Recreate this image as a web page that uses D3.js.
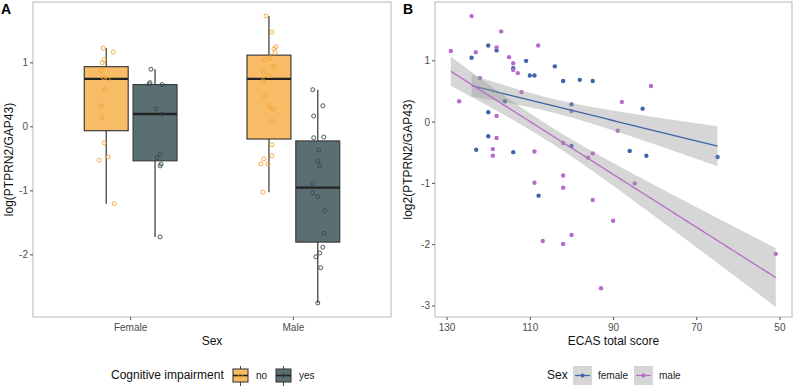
<!DOCTYPE html>
<html>
<head>
<meta charset="utf-8">
<script src="https://cdn.jsdelivr.net/npm/d3@7"></script>
<style>
  body { margin: 0; background: #fff; }
  svg { display: block; font-family: "Liberation Sans", Arial, sans-serif; }
</style>
</head>
<body>
<svg id="chart" width="794" height="386"></svg>
<script>
// ---- panel A data ----
const sexCats = ["Female", "Male"];
const impairLevels = ["no", "yes"];
// box stats: [lower whisker, q1, median, q3, upper whisker]
const boxFemaleNo = [-1.2, -0.06, 0.75, 0.94, 1.23];
const boxFemaleYes = [-1.72, -0.53, 0.2, 0.66, 0.9];
const boxMaleNo = [-1.02, -0.19, 0.75, 1.12, 1.73];
const boxMaleYes = [-2.75, -1.8, -0.95, -0.22, 0.58];

const ptsFemaleNo = [1.23, 1.17, 1.05, 1.0, 0.875, 0.77, 0.75, 0.58, 0.33, 0.14, -0.25, -0.47, -0.52, -1.2];
const jitFemaleNo = [-0.018, 0.043, -0.012, -0.025, -0.031, -0.018, 0.012, -0.006, -0.031, -0.025, -0.012, 0.012, -0.043, 0.049];
const ptsFemaleYes = [0.9, 0.69, 0.67, 0.66, 0.28, 0.2, -0.42, -0.48, -0.58, -0.61, -1.72];
const jitFemaleYes = [-0.025, -0.031, -0.037, 0.043, 0.006, 0.043, 0.031, 0.012, 0.037, 0.031, 0.031];
const ptsMaleNo = [1.73, 1.48, 1.25, 1.22, 1.16, 1.08, 1.05, 0.95, 0.86, 0.8, 0.72, 0.48, 0.33, 0.28, 0.09, -0.28, -0.45, -0.5, -0.58, -0.58, -1.02];
const jitMaleNo = [-0.018, 0.018, 0.043, 0.031, 0.037, 0.006, -0.025, 0.031, -0.031, 0, -0.037, -0.025, 0, 0.025, 0.018, 0.018, 0.018, -0.031, -0.049, -0.006, -0.037];
const ptsMaleYes = [0.58, 0.33, 0.17, -0.16, -0.17, -0.36, -0.53, -0.61, -0.89, -1.03, -1.09, -1.31, -1.66, -1.88, -1.97, -2.03, -2.2, -2.75];
const jitMaleYes = [-0.031, 0.031, -0.025, 0.037, -0.025, 0.006, 0, 0.012, -0.031, -0.031, 0, 0.043, 0.037, 0.031, 0.012, -0.012, 0.018, 0];

const yTicksA = [1, 0, -1, -2];

// ---- panel B data ----
const femaleScore = [120.1, 118.1, 124.1, 111.0, 114.1, 104.1, 110.1, 109.0, 102.1, 98.1, 95.0, 116.1, 100.1, 120.1, 120.1, 123.0, 114.1, 100.1, 83.0, 86.1, 82.1, 65.0, 108.0];
const femaleRatio = [1.25, 1.17, 1.05, 1.0, 0.88, 0.91, 0.76, 0.76, 0.67, 0.69, 0.67, 0.34, 0.29, 0.16, -0.23, -0.45, -0.49, -0.39, 0.22, -0.47, -0.55, -0.57, -1.2];
const maleScore = [124.1, 117.0, 129.1, 118.1, 123.1, 108.1, 115.1, 114.1, 114.1, 113.0, 122.1, 112.1, 127.1, 118.1, 118.1, 119.0, 119.0, 109.0, 100.1, 102.1, 95.0, 96.1, 81.0, 88.0, 89.0, 109.0, 102.1, 102.1, 95.0, 90.1, 100.1, 107.0, 102.1, 93.0, 84.9, 51.0];
const maleRatio = [1.73, 1.48, 1.16, 1.22, 1.14, 1.25, 1.06, 0.96, 0.85, 0.8, 0.72, 0.49, 0.34, 0.1, -0.26, -0.44, -0.55, -0.48, 0.18, -0.34, -0.51, -0.58, 0.59, 0.33, -0.14, -0.99, -0.87, -1.07, -1.27, -1.61, -1.84, -1.94, -1.99, -2.71, -1.0, -2.15];

const xTicksB = [130, 110, 90, 70, 50];
const yTicksB = [1, 0, -1, -2, -3];

// ---- colours ----
const boxFill = { no: "#f8bb66", yes: "#5b6f73" };
const ptColour = { no: "#f3a42e", yes: "#2c4950" };
const sexColour = { female: "#3d66a9", male: "#b76cc9" };
const borderCol = "#bdbdbd";
const tickCol = "#555";
const labelCol = "#4d4d4d";

const svg = d3.select("#chart");

// ================= panel A =================
const A = { left: 33, right: 391, top: 2, bottom: 317 };
const xA = d3.scaleLinear().domain([0.4, 2.6]).range([A.left, A.right]);
const yA = d3.scaleLinear().domain([-2.97, 1.95]).range([A.bottom, A.top]);

const groupsA = [
  { sex: 0, lvl: "no", box: boxFemaleNo, pts: ptsFemaleNo, jit: jitFemaleNo },
  { sex: 0, lvl: "yes", box: boxFemaleYes, pts: ptsFemaleYes, jit: jitFemaleYes },
  { sex: 1, lvl: "no", box: boxMaleNo, pts: ptsMaleNo, jit: jitMaleNo },
  { sex: 1, lvl: "yes", box: boxMaleYes, pts: ptsMaleYes, jit: jitMaleYes }
];
const dodge = 0.15, boxW = 0.27;
const centreA = g => (g.sex + 1) + (g.lvl === "no" ? -dodge : dodge);

const gA = svg.append("g");
gA.append("rect").attr("x", A.left).attr("y", A.top)
  .attr("width", A.right - A.left).attr("height", A.bottom - A.top)
  .attr("fill", "#fff").attr("stroke", borderCol).attr("stroke-width", 1.1);

groupsA.forEach(g => {
  const c = centreA(g);
  const [lo, q1, med, q3, hi] = g.box;
  const cx = xA(c);
  gA.append("line").attr("x1", cx).attr("x2", cx).attr("y1", yA(hi)).attr("y2", yA(q3))
    .attr("stroke", "#444").attr("stroke-width", 1.3);
  gA.append("line").attr("x1", cx).attr("x2", cx).attr("y1", yA(q1)).attr("y2", yA(lo))
    .attr("stroke", "#444").attr("stroke-width", 1.3);
  gA.append("rect")
    .attr("x", xA(c - boxW / 2)).attr("y", yA(q3))
    .attr("width", xA(c + boxW / 2) - xA(c - boxW / 2)).attr("height", yA(q1) - yA(q3))
    .attr("fill", boxFill[g.lvl]).attr("stroke", "#3d3d3d").attr("stroke-width", 1.2);
  gA.append("line").attr("x1", xA(c - boxW / 2)).attr("x2", xA(c + boxW / 2))
    .attr("y1", yA(med)).attr("y2", yA(med))
    .attr("stroke", "#222").attr("stroke-width", 2.4);
});

groupsA.forEach(g => {
  const c = centreA(g);
  gA.append("g").selectAll("circle")
    .data(g.pts.map((v, i) => ({ v, j: g.jit[i] })))
    .join("circle")
    .attr("cx", d => xA(c + d.j)).attr("cy", d => yA(d.v))
    .attr("r", 2).attr("fill", "none")
    .attr("stroke", ptColour[g.lvl]).attr("stroke-width", 0.9);
});

// axes A
const axA = svg.append("g");
yTicksA.forEach(t => {
  axA.append("line").attr("x1", A.left - 3).attr("x2", A.left).attr("y1", yA(t)).attr("y2", yA(t))
    .attr("stroke", tickCol);
  axA.append("text").attr("x", A.left - 5).attr("y", yA(t)).attr("dy", "0.35em")
    .attr("text-anchor", "end").attr("font-size", 10).attr("fill", labelCol).text(t);
});
sexCats.forEach((s, i) => {
  const x = xA(i + 1);
  axA.append("line").attr("x1", x).attr("x2", x).attr("y1", A.bottom).attr("y2", A.bottom + 3)
    .attr("stroke", tickCol);
  axA.append("text").attr("x", x).attr("y", A.bottom + 14).attr("text-anchor", "middle")
    .attr("font-size", 10).attr("fill", labelCol).text(s);
});
axA.append("text").attr("x", (A.left + A.right) / 2).attr("y", 345).attr("text-anchor", "middle")
  .attr("font-size", 12).attr("fill", "#111").text("Sex");
axA.append("text").attr("transform", `translate(13,${(A.top + A.bottom) / 2}) rotate(-90)`)
  .attr("text-anchor", "middle").attr("font-size", 12).attr("fill", "#111").text("log(PTPRN2/GAP43)");
svg.append("text").attr("x", 1).attr("y", 14).attr("font-size", 14).attr("font-weight", "bold")
  .attr("fill", "#000").text("A");

// legend A
const legA = svg.append("g");
legA.append("text").attr("x", 111).attr("y", 379).attr("font-size", 12).attr("fill", "#111")
  .text("Cognitive impairment");
const keyAx = { no: 233, yes: 276 };
impairLevels.forEach(l => {
  const kx = keyAx[l];
  legA.append("line").attr("x1", kx + 7.5).attr("x2", kx + 7.5).attr("y1", 366).attr("y2", 386)
    .attr("stroke", "#444").attr("stroke-width", 1);
  legA.append("rect").attr("x", kx).attr("y", 369).attr("width", 15).attr("height", 13)
    .attr("fill", boxFill[l]).attr("stroke", "#3d3d3d").attr("stroke-width", 1.1);
  legA.append("line").attr("x1", kx).attr("x2", kx + 15).attr("y1", 375.5).attr("y2", 375.5)
    .attr("stroke", "#222").attr("stroke-width", 1.6);
  legA.append("circle").attr("cx", kx + 7.5).attr("cy", 375.5).attr("r", 2)
    .attr("fill", "none").attr("stroke", ptColour[l]).attr("stroke-width", 0.9);
  legA.append("text").attr("x", kx + 23).attr("y", 379).attr("font-size", 10)
    .attr("fill", "#222").text(l);
});

// ================= panel B =================
const B = { left: 435, right: 792, top: 2, bottom: 317 };
const xB = d3.scaleLinear().domain([132.9, 47.1]).range([B.left, B.right]);
const yB = d3.scaleLinear().domain([-3.18, 1.96]).range([B.bottom, B.top]);

const gB = svg.append("g");
gB.append("rect").attr("x", B.left).attr("y", B.top)
  .attr("width", B.right - B.left).attr("height", B.bottom - B.top)
  .attr("fill", "#fff").attr("stroke", borderCol).attr("stroke-width", 1.1);

const seriesB = [
  { key: "female", xs: femaleScore, ys: femaleRatio },
  { key: "male", xs: maleScore, ys: maleRatio }
];

seriesB.forEach(s => {
  gB.append("g").selectAll("circle")
    .data(s.xs.map((x, i) => [x, s.ys[i]]))
    .join("circle")
    .attr("cx", d => xB(d[0])).attr("cy", d => yB(d[1]))
    .attr("r", 2.2).attr("fill", sexColour[s.key]);
});

// linear fit; band width is se times a factor matched to the reference ribbon
const bandK = 0.82;
function fit(xs, ys) {
  const n = xs.length;
  const mx = d3.mean(xs), my = d3.mean(ys);
  let sxx = 0, sxy = 0;
  xs.forEach((x, i) => { sxx += (x - mx) ** 2; sxy += (x - mx) * (ys[i] - my); });
  const b = sxy / sxx, a = my - b * mx;
  let sse = 0;
  xs.forEach((x, i) => { sse += (ys[i] - a - b * x) ** 2; });
  const s = Math.sqrt(sse / (n - 2));
  return { a, b, n, mx, sxx, s };
}

seriesB.forEach(s => {
  const f = fit(s.xs, s.ys);
  const [x0, x1] = d3.extent(s.xs);
  const grid = d3.range(0, 81).map(i => x0 + (x1 - x0) * i / 80);
  const band = grid.map(x => {
    const yhat = f.a + f.b * x;
    const se = f.s * Math.sqrt(1 / f.n + (x - f.mx) ** 2 / f.sxx);
    return { x, yhat, lo: yhat - bandK * se, hi: yhat + bandK * se };
  });
  gB.append("path").datum(band)
    .attr("d", d3.area().x(d => xB(d.x)).y0(d => yB(d.lo)).y1(d => yB(d.hi)))
    .attr("fill", "#999").attr("fill-opacity", 0.4);
  gB.append("path").datum(band)
    .attr("d", d3.line().x(d => xB(d.x)).y(d => yB(d.yhat)))
    .attr("fill", "none").attr("stroke", sexColour[s.key]).attr("stroke-width", 1.3);
});

// axes B
const axB = svg.append("g");
yTicksB.forEach(t => {
  axB.append("line").attr("x1", B.left - 3).attr("x2", B.left).attr("y1", yB(t)).attr("y2", yB(t))
    .attr("stroke", tickCol);
  axB.append("text").attr("x", B.left - 5).attr("y", yB(t)).attr("dy", "0.35em")
    .attr("text-anchor", "end").attr("font-size", 10).attr("fill", labelCol).text(t);
});
xTicksB.forEach(t => {
  axB.append("line").attr("x1", xB(t)).attr("x2", xB(t)).attr("y1", B.bottom).attr("y2", B.bottom + 3)
    .attr("stroke", tickCol);
  axB.append("text").attr("x", xB(t)).attr("y", B.bottom + 14).attr("text-anchor", "middle")
    .attr("font-size", 10).attr("fill", labelCol).text(t);
});
axB.append("text").attr("x", (B.left + B.right) / 2).attr("y", 345).attr("text-anchor", "middle")
  .attr("font-size", 12).attr("fill", "#111").text("ECAS total score");
axB.append("text").attr("transform", `translate(412,${(B.top + B.bottom) / 2}) rotate(-90)`)
  .attr("text-anchor", "middle").attr("font-size", 12).attr("fill", "#111").text("log2(PTPRN2/GAP43)");
svg.append("text").attr("x", 403).attr("y", 14).attr("font-size", 14).attr("font-weight", "bold")
  .attr("fill", "#000").text("B");

// legend B
const legB = svg.append("g");
legB.append("text").attr("x", 547).attr("y", 379).attr("font-size", 12).attr("fill", "#111").text("Sex");
const keyBx = { female: 573, male: 634 };
seriesB.forEach(s => {
  const kx = keyBx[s.key];
  legB.append("rect").attr("x", kx).attr("y", 366).attr("width", 19).attr("height", 19)
    .attr("fill", "#d6d6d6");
  legB.append("line").attr("x1", kx + 2).attr("x2", kx + 17).attr("y1", 375.5).attr("y2", 375.5)
    .attr("stroke", sexColour[s.key]).attr("stroke-width", 1.3);
  legB.append("circle").attr("cx", kx + 9.5).attr("cy", 375.5).attr("r", 2)
    .attr("fill", sexColour[s.key]);
  legB.append("text").attr("x", kx + 25).attr("y", 379).attr("font-size", 10)
    .attr("fill", "#222").text(s.key);
});
</script>
</body>
</html>
